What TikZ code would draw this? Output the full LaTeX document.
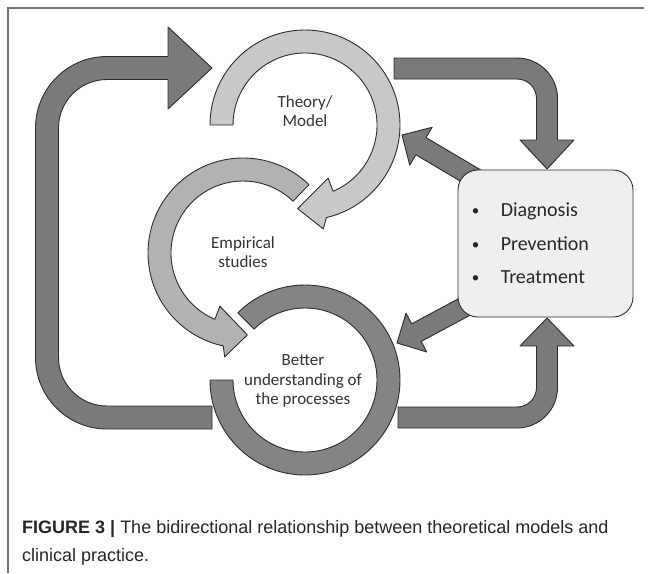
\documentclass[tikz,border=0pt]{standalone}
\usepackage{fontspec}
\setmainfont{Carlito}
\newfontfamily\capfont{Liberation Sans}
\usetikzlibrary{positioning,calc}
\definecolor{arrowgray}{RGB}{122,122,122}
\definecolor{theorygray}{RGB}{200,200,200}
\definecolor{empgray}{RGB}{178,178,178}
\definecolor{bettergray}{RGB}{132,132,132}
\definecolor{boxgray}{RGB}{239,239,239}
\definecolor{edgegray}{RGB}{45,45,45}

\newcommand\fatarrow[2]{%
  \coordinate (fa) at ($(#2)!22pt!(#1)$);
  \draw[bigarrow] ($(#1)!10pt!90:(#2)$) -- ($(fa)!10pt!90:(#2)$) -- ($(fa)!22pt!90:(#2)$) -- (#2)
    -- ($(fa)!22pt!-90:(#2)$) -- ($(fa)!10pt!-90:(#2)$) -- ($(#1)!10pt!-90:(#2)$) -- cycle;}
\newcommand\itembullet{\makebox[29pt][l]{\raisebox{1pt}{\fontsize{15}{15}\selectfont\textbullet}}}

\begin{document}
\begin{tikzpicture}[x=1pt,y=-1pt,
    bigarrow/.style={draw=edgegray,fill=arrowgray,line width=0.9pt,line join=round},
    ring/.style={draw=edgegray,line width=0.9pt,line join=round},
    ringlabel/.style={align=center,text=black!80,inner sep=0pt,font=\fontsize{17}{19.5}\selectfont},
    carebox/.style={draw=edgegray,fill=boxgray,line width=0.9pt,rounded corners=20pt,
                    minimum width=175pt,minimum height=147pt},
    items/.style={align=left,inner sep=0pt,text=black!85,font=\fontsize{20}{33.5}\selectfont},
    frame/.style={draw=black!55,line width=1.2pt},
    caption/.style={anchor=base west,inner sep=0pt,text=black!85,font=\capfont\fontsize{18}{28}\selectfont}]

  \useasboundingbox (0,0) rectangle (652,573);
  \draw[frame] (644,8) -- (8,8) -- (8,573);

  \coordinate (theo) at (305,125);
  \coordinate (emp) at (243,253);
  \coordinate (bet) at (305,380);

  \draw[bigarrow] (212,429) -- (107,429) arc[start angle=90,end angle=180,radius=71.5]
    -- (35.5,128) arc[start angle=180,end angle=270,radius=71.5]
    -- (168,56.5) -- (168,27) -- (212,68) -- (168,109) -- (168,79.5)
    -- (107,79.5) arc[start angle=270,end angle=180,radius=48.5]
    -- (58.5,357.5) arc[start angle=180,end angle=90,radius=48.5] -- (212,406) -- cycle;
  \draw[bigarrow] (394,58) -- (517,58) arc[start angle=270,end angle=360,radius=40.5]
    -- (557.5,140) -- (574,140) -- (547,169) -- (520,140) -- (536.5,140)
    -- (536.5,98.5) arc[start angle=0,end angle=-90,radius=19.5] -- (394,79) -- cycle;
  \draw[bigarrow] (398,428) -- (517,428) arc[start angle=90,end angle=0,radius=40.5]
    -- (557.5,346) -- (574,346) -- (547,318) -- (520,346) -- (536.5,346)
    -- (536.5,387.5) arc[start angle=0,end angle=90,radius=19.5] -- (398,407) -- cycle;

  \coordinate (uptip) at (402,135);
  \coordinate (upfoot) at (495,190);
  \coordinate (lowtip) at (397,343);
  \coordinate (lowfoot) at (481,298);
  \fatarrow{upfoot}{uptip}
  \fatarrow{lowfoot}{lowtip}

  \node[carebox] (care) at (545.5,243.5) {};
  \node[items,right=14pt of care.west] (list) {\itembullet Diagnosis\\
    \itembullet Prevention\\ \itembullet Treatment};

  \draw[ring,fill=theorygray] ($(theo)+(180:95)$) arc[start angle=180,end angle=437,radius=95]
    -- ($(theo)+(440:105.5)$) -- ($(theo)+(455:84)$) -- ($(theo)+(426.5:58)$) -- ($(theo)+(427:72)$)
    arc[start angle=427,end angle=180,radius=72] -- cycle;
  \draw[ring,fill=empgray] ($(emp)+(-46:95)$) arc[start angle=-46,end angle=-258,radius=95]
    -- ($(emp)+(-260:105.5)$) -- ($(emp)+(-273:82)$) -- ($(emp)+(-246.5:58)$) -- ($(emp)+(-247:72)$)
    arc[start angle=-247,end angle=-46,radius=72] -- cycle;
  \draw[ring,fill=bettergray] ($(bet)+(180:95)$) arc[start angle=180,end angle=-135,radius=95]
    -- ($(bet)+(-135:72)$) arc[start angle=-135,end angle=180,radius=72] -- cycle;

  \node[ringlabel] (theolabel) at (305,111) {Theory/\\Model};
  \node[ringlabel] (emplabel) at (243,252) {Empirical\\studies};
  \node[ringlabel] (betlabel) at (303,381) {Better\\understanding of\\the processes};

  \node[caption] (capA) at (22,533) {\textbf{FIGURE 3 |} The bidirectional relationship between theoretical models and};
  \node[caption] (capB) at (22,561) {clinical practice.};
\end{tikzpicture}
\end{document}
